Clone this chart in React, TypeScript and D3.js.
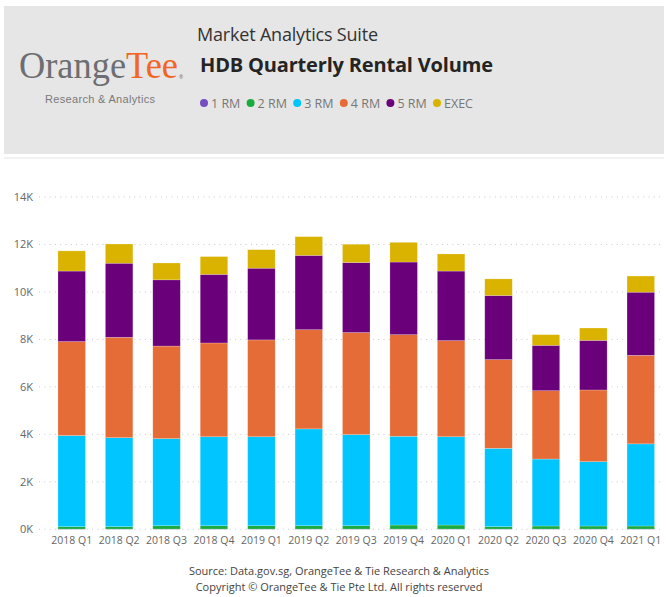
import React from 'react';
import * as d3 from 'd3';

const quarters = ['2018 Q1', '2018 Q2', '2018 Q3', '2018 Q4', '2019 Q1', '2019 Q2', '2019 Q3', '2019 Q4', '2020 Q1', '2020 Q2', '2020 Q3', '2020 Q4', '2021 Q1'];
const oneRm = [10, 10, 10, 10, 10, 10, 10, 10, 10, 10, 10, 10, 10];
const twoRm = [100, 100, 140, 140, 140, 140, 140, 170, 170, 100, 130, 130, 130];
const threeRm = [3840, 3750, 3670, 3750, 3750, 4080, 3840, 3740, 3720, 3300, 2820, 2710, 3460];
const fourRm = [3960, 4230, 3900, 3950, 4080, 4180, 4300, 4280, 4050, 3740, 2880, 3020, 3730];
const fiveRm = [2970, 3120, 2790, 2890, 3020, 3130, 2950, 3060, 2930, 2700, 1910, 2090, 2660];
const execFlat = [850, 810, 710, 750, 780, 790, 770, 830, 720, 700, 450, 520, 680];
const seriesNames = ['1 RM', '2 RM', '3 RM', '4 RM', '5 RM', 'EXEC'];
const seriesColors = ['#744EC2', '#1AAB40', '#00C5FF', '#E66C37', '#6B007B', '#D9B300'];
const yTicks = [0, 2000, 4000, 6000, 8000, 10000, 12000, 14000];

const W = 666;
const H = 597;
const font = '"Segoe UI", "Open Sans", sans-serif';

export default function App() {
  const rows = quarters.map((q, i) => ({
    q,
    '1 RM': oneRm[i],
    '2 RM': twoRm[i],
    '3 RM': threeRm[i],
    '4 RM': fourRm[i],
    '5 RM': fiveRm[i],
    EXEC: execFlat[i],
  }));
  const stacked = d3.stack<any>().keys(seriesNames)(rows);

  const x = d3.scaleBand().domain(quarters).range([48, 664.5]).paddingInner(0.42).paddingOuter(0.21);
  const y = d3.scaleLinear().domain([0, 14000]).range([529.3, 197]);
  const color = d3.scaleOrdinal<string, string>().domain(seriesNames).range(seriesColors);

  return (
    <svg width={W} height={H} style={{ position: 'absolute', left: 0, top: 0, background: '#fff' }} fontFamily={font}>
      {/* header band */}
      <rect x={4} y={6} width={660} height={148} fill="#e6e6e6" />
      <rect x={4} y={157} width={660} height={2} fill="#f2f2f2" />

      {/* logo */}
      <text x={19} y={78} fontFamily='"Liberation Serif", serif' fontSize={37} textLength={159} lengthAdjust="spacingAndGlyphs">
        <tspan fill="#6d6e71">Orange</tspan>
        <tspan fill="#f26522">Tee</tspan>
      </text>
      <text x={179} y={79} fontSize={5} fill="#6d6e71">®</text>
      <text x={45} y={103} fontFamily='"Liberation Sans", Arial, sans-serif' fontSize={11} fill="#7a7a7a" textLength={110}>Research &amp; Analytics</text>

      {/* titles */}
      <text x={197} y={41} fontSize={18} fill="#333" textLength={181}>Market Analytics Suite</text>
      <text x={200} y={72} fontSize={20} fontWeight="bold" fill="#252423" textLength={293}>HDB Quarterly Rental Volume</text>

      {/* legend */}
      {seriesNames.map((s, i) => (
        <g key={s} transform={`translate(${204 + i * 46.6},103)`}>
          <circle r={4} fill={color(s)} />
          <text x={7} y={4.5} fontSize={12.5} fill="#777">{s}</text>
        </g>
      ))}

      {/* grid + y axis */}
      {yTicks.map(t => (
        <g key={t}>
          <line x1={39} x2={663} y1={y(t)} y2={y(t)} stroke="#c8c8c8" strokeWidth={1} strokeDasharray="1 4.3" />
          <text x={33} y={y(t) + 4} fontSize={11} fill="#666" textAnchor="end">{`${d3.format('d')(t / 1000)}K`}</text>
        </g>
      ))}

      {/* bars */}
      {stacked.map(layer => (
        <g key={layer.key} fill={color(layer.key)}>
          {layer.map((d, i) => (
            <rect
              key={quarters[i]}
              x={x(quarters[i])}
              width={x.bandwidth()}
              y={y(d[1])}
              height={Math.max(0, y(d[0]) - y(d[1]))}
              stroke="#ffffff"
              strokeOpacity={0.35}
              strokeWidth={0.6}
            />
          ))}
        </g>
      ))}

      {/* x axis labels */}
      {quarters.map(q => (
        <text key={q} x={(x(q) ?? 0) + x.bandwidth() / 2} y={544} fontSize={10.5} fill="#666" textAnchor="middle">{q}</text>
      ))}

      {/* footer */}
      <text x={339} y={575} fontSize={11} fill="#444" textAnchor="middle">Source: Data.gov.sg, OrangeTee &amp; Tie Research &amp; Analytics</text>
      <text x={339} y={591} fontSize={11} fill="#444" textAnchor="middle">Copyright © OrangeTee &amp; Tie Pte Ltd. All rights reserved</text>
    </svg>
  );
}
